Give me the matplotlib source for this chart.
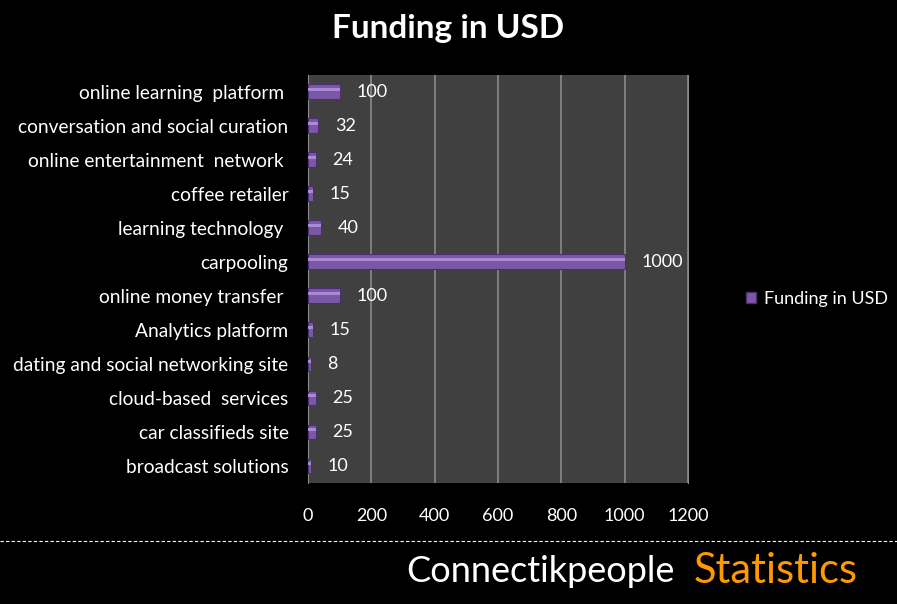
import matplotlib
matplotlib.use('Agg')
import matplotlib.pyplot as plt
from matplotlib.patches import Patch

# Dados (de baixo para cima)
categories = ["broadcast solutions", "car classifieds site", "cloud-based  services",
              "dating and social networking site", "Analytics platform", "online money transfer ",
              "carpooling", "learning technology ", "coffee retailer", "online entertainment  network ",
              "conversation and social curation", "online learning  platform "]
values = [10, 25, 25, 8, 15, 100, 1000, 40, 15, 24, 32, 100]
x_ticks = [0, 200, 400, 600, 800, 1000, 1200]

plt.rcParams['font.family'] = ['Lato', 'DejaVu Sans']

fig = plt.figure(figsize=(8.97, 6.04), dpi=100, facecolor='black')
ax = fig.add_axes([0.3434, 0.2003, 0.4236, 0.6757])
ax.set_facecolor('#404040')

ypos = list(range(len(categories)))
bars = ax.barh(ypos, values, height=0.44, color='#7a58a6', edgecolor='#4a3070', linewidth=0.8, zorder=3)
# brilho superior das barras
ax.barh([y + 0.07 for y in ypos], values, height=0.1, color='#a98ad6', linewidth=0, zorder=4)

for y, v in zip(ypos, values):
    ax.annotate(str(v), (v, y), xytext=(12, 0), textcoords='offset points',
                va='center', ha='left', color='white', fontsize=13)

ax.set_xlim(0, 1200)
ax.set_ylim(-0.5, len(categories) - 0.5)
ax.set_xticks(x_ticks)
ax.set_xticklabels([str(t) for t in x_ticks])
ax.set_yticks(ypos)
ax.set_yticklabels(categories)
ax.tick_params(axis='x', colors='white', labelsize=13, length=0, pad=18)
ax.tick_params(axis='y', colors='white', labelsize=13.8, length=0, pad=14)
ax.xaxis.grid(True, color='#8a8a8a', linewidth=1.2, zorder=0)
ax.set_axisbelow(True)
for s in ax.spines.values():
    s.set_visible(False)
ax.spines['right'].set_visible(True)
ax.spines['right'].set_color('#8a8a8a')
ax.spines['left'].set_visible(True)
ax.spines['left'].set_color('#8a8a8a')

fig.text(0.5, 0.952, "Funding in USD", ha='center', va='center', color='white',
         fontsize=24, fontweight='bold')

leg = fig.legend(handles=[Patch(facecolor='#7a58a6', edgecolor='#4a3070', label='Funding in USD')],
                 loc='center left', bbox_to_anchor=(0.813, 0.505), frameon=False,
                 handlelength=0.6, handleheight=0.6, handletextpad=0.45, fontsize=13)
for t in leg.get_texts():
    t.set_color('white')

# linha tracejada e rodapé
fig.add_artist(plt.Line2D([0, 1], [0.104, 0.104], color='white', linewidth=0.8,
                          linestyle=(0, (3, 2)), transform=fig.transFigure))
fig.text(0.453, 0.054, "Connectikpeople", ha='left', va='center', color='white', fontsize=26)
fig.text(0.773, 0.054, "Statistics", ha='left', va='center', color='#ff9900', fontsize=30)

fig.savefig('out.png', dpi=100, facecolor='black')
